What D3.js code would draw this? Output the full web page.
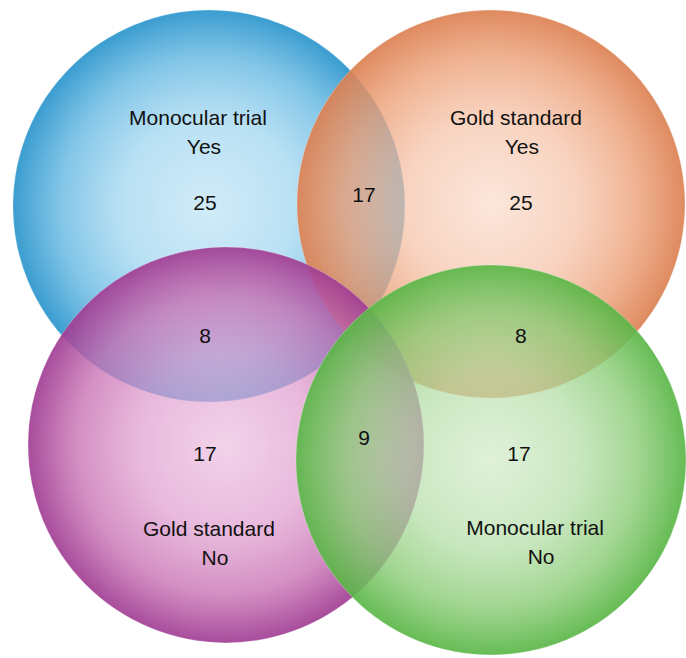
<!DOCTYPE html>
<html>
<head>
<meta charset="utf-8">
<script src="https://cdn.jsdelivr.net/npm/d3@7"></script>
<style>
  body { margin: 0; background: #fff; }
  svg { display: block; }
</style>
</head>
<body>
<svg id="venn" width="686" height="658"></svg>
<script>
// sets drawn in order (later ones sit on top)
const sets = ["Monocular trial Yes", "Gold standard Yes", "Gold standard No", "Monocular trial No"];
// circle layout in chart units (cx, cy, r)
const setCx = [10.66, 25.05, 11.53, 25.05];
const setCy = [10.51, 10.41, 22.70, 23.47];
const setR = [10.0, 9.9, 10.1, 9.95];

// region counts
const regionNames = ["MT yes only", "MT yes & GS yes", "GS yes only", "MT yes & GS no",
  "GS yes & MT no", "GS no only", "GS no & MT no", "MT no only"];
const regionCounts = [25, 17, 25, 8, 8, 17, 9, 17];
const regionX = [10.46, 18.57, 26.58, 10.46, 26.58, 10.46, 18.57, 26.48];
const regionY = [10.71, 10.31, 10.71, 17.50, 17.50, 23.52, 22.70, 23.52];

// set titles
const titleLines = [["Monocular trial", "Yes"], ["Gold standard", "Yes"], ["Gold standard", "No"], ["Monocular trial", "No"]];
const titleX = [10.1, 26.32, 10.66, 27.3];
const titleY = [6.38, 6.38, 27.35, 27.30];

// look of each ball over white, centre -> rim
const shades = [
  ["#d0ebf8", "#b8e0f4", "#84c6e8", "#3a9dd0"],
  ["#fce6db", "#f8d3bf", "#f0b393", "#df8a5f"],
  ["#f2d2ea", "#e8b8dc", "#d48fc3", "#a84c9c"],
  ["#e0f1da", "#c9e7bf", "#a2d692", "#66bc55"],
];
const stopOffsets = [0, 0.45, 0.75, 1];
const stopOpacity = [0.64, 0.7, 0.8, 0.92];

const width = 686, height = 658;
const x = d3.scaleLinear().domain([0, 35]).range([0, width]);
const y = d3.scaleLinear().domain([0, 35 * height / width]).range([0, height]);
const unit = x(1) - x(0);

// colour that gives `hex` when laid at opacity a over white
function unblend(hex, a) {
  const c = d3.rgb(hex);
  const f = (v) => Math.max(0, Math.min(255, (v - 255 * (1 - a)) / a));
  return d3.rgb(f(c.r), f(c.g), f(c.b)).formatHex();
}

const svg = d3.select("#venn");
const defs = svg.append("defs");

sets.forEach((s, i) => {
  const g = defs.append("radialGradient")
    .attr("id", "grad" + i)
    .attr("cx", "50%").attr("cy", "50%").attr("r", "50%");
  g.selectAll("stop")
    .data(stopOffsets)
    .join("stop")
    .attr("offset", (d) => d)
    .attr("stop-color", (d, k) => unblend(shades[i][k], stopOpacity[k]))
    .attr("stop-opacity", (d, k) => stopOpacity[k]);
});

svg.selectAll("circle.set")
  .data(sets)
  .join("circle")
  .attr("class", "set")
  .attr("cx", (d, i) => x(setCx[i]))
  .attr("cy", (d, i) => y(setCy[i]))
  .attr("r", (d, i) => setR[i] * unit)
  .attr("fill", (d, i) => `url(#grad${i})`)
  .attr("stroke", "#fff")
  .attr("stroke-opacity", 0.25)
  .attr("stroke-width", 1);

const font = "'Liberation Sans', Arial, sans-serif";

svg.selectAll("text.count")
  .data(regionCounts)
  .join("text")
  .attr("class", "count")
  .attr("x", (d, i) => x(regionX[i]))
  .attr("y", (d, i) => y(regionY[i]))
  .attr("text-anchor", "middle")
  .style("font-family", font)
  .style("font-size", "21px")
  .style("fill", "#111")
  .text((d) => d);

const titles = svg.selectAll("text.title")
  .data(titleLines)
  .join("text")
  .attr("class", "title")
  .attr("text-anchor", "middle")
  .style("font-family", font)
  .style("font-size", "21px")
  .style("fill", "#111");

titles.selectAll("tspan")
  .data((d, i) => d.map((t, j) => ({ t, j, i })))
  .join("tspan")
  .attr("x", (d) => x(titleX[d.i]) + (d.j ? 6 : 0))
  .attr("y", (d) => y(titleY[d.i]) + d.j * 29)
  .text((d) => d.t);
</script>
</body>
</html>
